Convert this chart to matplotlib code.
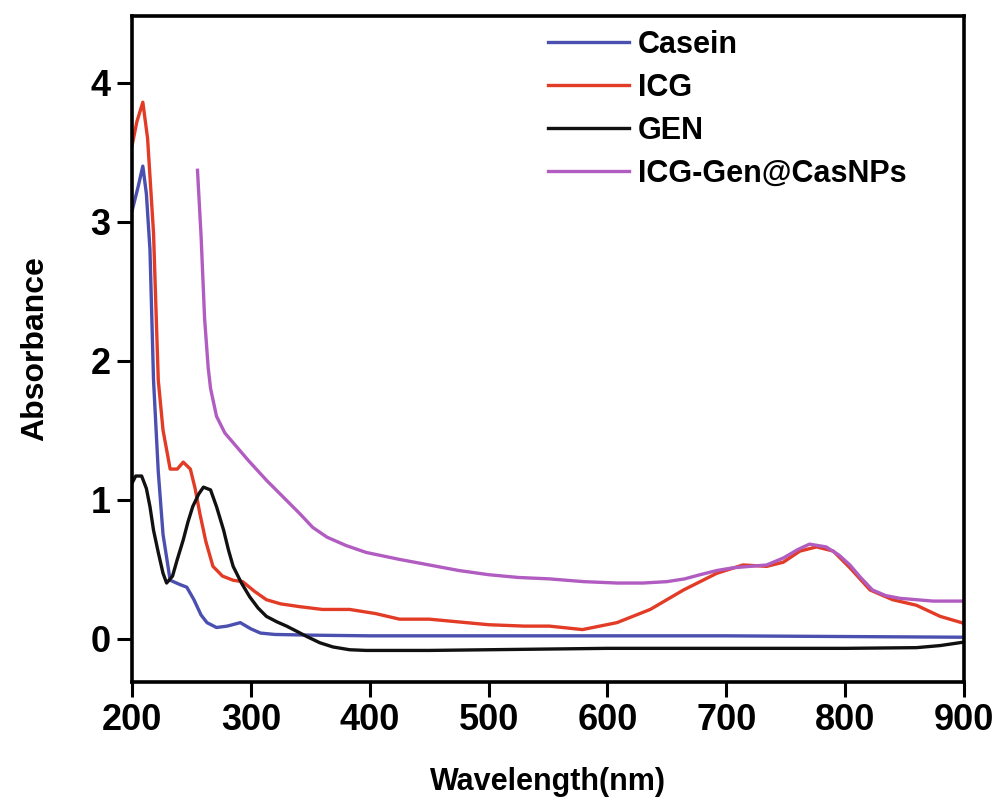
import matplotlib

matplotlib.use("Agg")

import matplotlib.pyplot as plt

plt.rcParams["font.family"] = ["Liberation Sans", "DejaVu Sans"]
plt.rcParams["font.weight"] = "bold"

casein_wl = [200, 205, 209, 212, 215, 218, 222, 226, 232, 240, 246, 252, 258, 263, 271,
             280, 291, 300, 308, 320, 350, 400, 500, 600, 700, 800, 900]
casein_abs = [3.08, 3.25, 3.40, 3.20, 2.80, 1.86, 1.20, 0.75, 0.42, 0.39, 0.37, 0.28, 0.17,
              0.115, 0.08, 0.09, 0.115, 0.07, 0.04, 0.03, 0.025, 0.02, 0.02, 0.02, 0.02,
              0.015, 0.01]

icg_wl = [200, 204, 209, 213, 218, 222, 226, 232, 238, 243, 249, 253, 257, 262, 268, 276,
          285, 293, 303, 313, 325, 341, 360, 383, 405, 425, 450, 475, 500, 530, 551, 579,
          608, 636, 664, 692, 714, 734, 748, 762, 776, 790, 804, 821, 840, 860, 880, 900]
icg_abs = [3.55, 3.72, 3.86, 3.60, 2.92, 1.86, 1.50, 1.22, 1.22, 1.27, 1.22, 1.08, 0.90,
           0.70, 0.52, 0.45, 0.42, 0.41, 0.34, 0.28, 0.25, 0.23, 0.21, 0.21, 0.18, 0.14,
           0.14, 0.12, 0.10, 0.09, 0.09, 0.065, 0.115, 0.21, 0.35, 0.47, 0.53, 0.52, 0.55,
           0.63, 0.66, 0.63, 0.51, 0.35, 0.28, 0.24, 0.16, 0.11]

gen_wl = [200, 203, 208, 212, 215, 218, 222, 226, 229, 234, 238, 243, 247, 251, 256, 260,
          266, 271, 277, 281, 285, 292, 299, 306, 313, 322, 330, 338, 347, 358, 369, 383,
          397, 450, 500, 600, 700, 800, 860, 880, 900]
gen_abs = [1.12, 1.17, 1.17, 1.08, 0.95, 0.78, 0.62, 0.47, 0.40, 0.45, 0.57, 0.71, 0.84,
           0.95, 1.04, 1.09, 1.07, 0.95, 0.78, 0.64, 0.52, 0.40, 0.30, 0.22, 0.16, 0.12,
           0.09, 0.055, 0.015, -0.03, -0.06, -0.08, -0.085, -0.085, -0.08, -0.07, -0.07,
           -0.07, -0.065, -0.05, -0.025]

nps_wl = [255, 258, 261, 264, 266, 271, 278, 285, 298, 313, 327, 341, 352, 364, 380, 397,
          425, 450, 475, 500, 525, 551, 580, 608, 630, 650, 665, 678, 692, 706, 720, 734,
          748, 760, 770, 784, 795, 804, 813, 823, 834, 846, 860, 874, 900]
nps_abs = [3.37, 2.90, 2.30, 1.95, 1.80, 1.60, 1.48, 1.41, 1.28, 1.14, 1.02, 0.90, 0.80,
           0.73, 0.67, 0.62, 0.57, 0.53, 0.49, 0.46, 0.44, 0.43, 0.41, 0.40, 0.40, 0.41,
           0.43, 0.46, 0.49, 0.51, 0.52, 0.53, 0.58, 0.64, 0.68, 0.66, 0.60, 0.53, 0.44,
           0.35, 0.31, 0.29, 0.28, 0.27, 0.27]

x_ticks = [200, 300, 400, 500, 600, 700, 800, 900]
y_ticks = [0, 1, 2, 3, 4]

fig = plt.figure(figsize=(10.01, 8.02), dpi=100)
ax = fig.add_axes([0.132, 0.150, 0.831, 0.830])

lw = 2.4
ax.plot(casein_wl, casein_abs, color="#4a4fb0", lw=lw, label="Casein", solid_joinstyle="round")
ax.plot(icg_wl, icg_abs, color="#e23b26", lw=lw, label="ICG", solid_joinstyle="round")
ax.plot(gen_wl, gen_abs, color="#111111", lw=lw, label="GEN", solid_joinstyle="round")
ax.plot(nps_wl, nps_abs, color="#b15cc0", lw=lw, label="ICG-Gen@CasNPs", solid_joinstyle="round")

ax.set_xlim(200, 900)
ax.set_ylim(-0.31, 4.48)
ax.set_xticks(x_ticks)
ax.set_yticks(y_ticks)
ax.tick_params(axis="both", direction="out", length=10.5, width=2.2, labelsize=26, pad=5)
ax.tick_params(top=False, right=False)
for side in ["top", "bottom", "left", "right"]:
    ax.spines[side].set_linewidth(2.6)

ax.set_xlabel("Wavelength(nm)", fontsize=22, fontweight="bold", labelpad=21)
ax.set_ylabel("Absorbance", fontsize=23, fontweight="bold", labelpad=29)

ax.legend(loc="upper left", bbox_to_anchor=(0.5, 0.979), frameon=False, fontsize=22,
          handlelength=2.65, handletextpad=0.3, labelspacing=0.42, borderpad=0,
          borderaxespad=0)

fig.savefig("out.png", dpi=100)
plt.close(fig)
